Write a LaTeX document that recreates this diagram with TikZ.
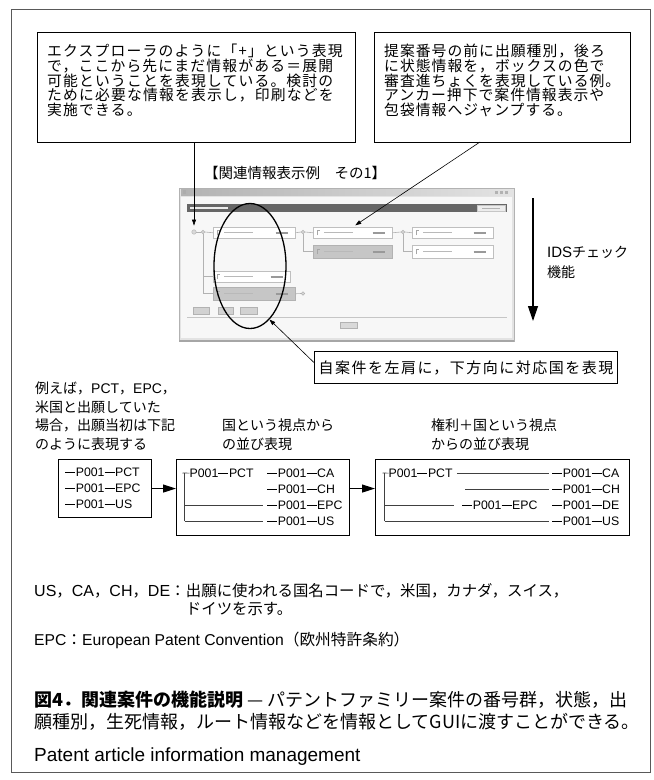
\documentclass[tikz,border=0pt]{standalone}
\usepackage{fontspec}
\setmainfont{Liberation Sans}
\newfontfamily\jp{Noto Sans CJK JP}
\usetikzlibrary{arrows.meta,shapes.geometric}
\newcommand\J[1]{{\jp #1}}
\newcommand\dsh{\rule[3.9pt]{10pt}{0.8pt}\kern0.6pt}
\newcommand\smarks[1]{%
  \draw[gray!70, line width=.5pt] ([xshift=4pt,yshift=-2.5pt]#1.west) -- ([xshift=4pt,yshift=2.5pt]#1.west) -- ([xshift=7pt,yshift=2.5pt]#1.west);
  \draw[gray!55, line width=1pt] ([xshift=11pt]#1.west) -- ([xshift=40pt]#1.west);
  \draw[gray!80, line width=2pt] ([xshift=-20pt]#1.east) -- ([xshift=-8pt]#1.east);}
\begin{document}
\begin{tikzpicture}[x=1pt,y=-1pt,
  cbox/.style={draw, line width=1.1pt, inner sep=0pt, anchor=north west},
  ltx/.style={anchor=base west, inner sep=0pt, font=\jp\fontsize{14.8}{15}\selectfont\addfontfeature{LetterSpace=8}},
  rtx/.style={anchor=base west, inner sep=0pt, font=\jp\fontsize{14.8}{15}\selectfont\addfontfeature{LetterSpace=7}},
  htx/.style={anchor=base west, inner sep=0pt, font=\jp\fontsize{14}{16}\selectfont},
  mtx/.style={anchor=base west, inner sep=0pt, font=\fontsize{14}{16}\selectfont},
  btx/.style={anchor=base west, inner sep=0pt, font=\fontsize{15.7}{17}\selectfont},
  tt/.style={anchor=base west, inner sep=0pt, font=\fontsize{12.3}{14}\selectfont},
  tbox/.style={draw, line width=1.1pt, inner sep=0pt, anchor=north west},
  tree/.style={draw=black!75, line width=0.6pt},
  barrow/.style={line width=1.1pt, -{Triangle[length=13pt,width=8pt]}},
  ptr/.style={line width=0.6pt, -{Triangle[length=6pt,width=4pt]}},
  snode/.style={draw=gray!50, fill=white, line width=0.5pt, inner sep=0pt, anchor=north west},
  sgray/.style={snode, fill=gray!45, draw=gray!60},
  sdot/.style={circle, draw=gray!60, fill=gray!30, inner sep=0pt, minimum size=3.5pt},
  sline/.style={draw=gray!60, line width=0.6pt}
]
\useasboundingbox (0,0) rectangle (654,780);
\fill[white] (0,0) rectangle (654,780);
\draw[black!65, line width=1pt] (11,9) rectangle (650,772);

% ---------- top callouts
\node[cbox, minimum width=318pt, minimum height=110pt] (lbox) at (37,32) {};
\node[cbox, minimum width=256pt, minimum height=110pt] (rbox) at (374,32) {};
\node[ltx] (lt1) at (47,56.5) {エクスプローラのように「+」という表現};
\node[ltx] (lt2) at (47,71.25) {で，ここから先にまだ情報がある＝展開};
\node[ltx] (lt3) at (47,86) {可能ということを表現している。検討の};
\node[ltx] (lt4) at (47,100.75) {ために必要な情報を表示し，印刷などを};
\node[ltx] (lt5) at (47,115.5) {実施できる。};
\node[rtx] (rt1) at (384,56.5) {提案番号の前に出願種別，後ろ};
\node[rtx] (rt2) at (384,71.25) {に状態情報を，ボックスの色で};
\node[rtx] (rt3) at (384,86) {審査進ちょくを表現している例。};
\node[rtx] (rt4) at (384,100.75) {アンカー押下で案件情報表示や};
\node[rtx] (rt5) at (384,115.5) {包袋情報へジャンプする。};

\node[htx, font=\jp\fontsize{14.5}{15}\selectfont] (title) at (204,178.5) {【関連情報表示例　その1】};

% ---------- screenshot
\filldraw[fill=gray!22, draw=gray!60, line width=0.6pt] (179,188) rectangle (514,341);
\fill[gray!6] (181,197) rectangle (512,338);
\shade[left color=gray!60, right color=gray!22] (181,189) rectangle (512,195);
\fill[gray!65] (183,190) rectangle (186,194);
\fill[gray!60] (495,190.5) rectangle (498,193.5);
\fill[gray!60] (500,190.5) rectangle (503,193.5);
\fill[gray!60] (505,190.5) rectangle (508,193.5);
\fill[black!60] (187,204) rectangle (507,212);
\draw[gray!15, line width=1.2pt] (190,208) -- (228,208);
\filldraw[fill=gray!15, draw=gray!45, line width=.4pt] (477,205) rectangle (505,211);
\draw[gray!60, line width=1pt] (482,208) -- (500,208);
\draw[gray!70, line width=1.4pt] (179,341) -- (514,341);

\node[snode, minimum width=82pt, minimum height=11pt] (sA) at (213,227) {};
\node[snode, minimum width=79pt, minimum height=11pt] (sB) at (313,227) {};
\node[sgray, minimum width=79pt, minimum height=13pt] (sC) at (313,245) {};
\node[snode, minimum width=81pt, minimum height=11pt] (sD) at (412,227) {};
\node[snode, minimum width=81pt, minimum height=13pt] (sE) at (412,245) {};
\node[snode, minimum width=77pt, minimum height=11pt] (sF) at (213,271) {};
\node[sgray, minimum width=82pt, minimum height=13pt] (sG) at (213,287) {};
\smarks{sA}\smarks{sB}\smarks{sC}\smarks{sD}\smarks{sE}\smarks{sF}\smarks{sG}

\node[sdot, minimum size=4.5pt] (c0) at (194,232) {};
\node[sdot] (c1) at (203,232) {};
\node[sdot] (c2) at (303,232) {};
\node[sdot] (c3) at (403,232) {};
\node[sdot] (c4) at (303,293.5) {};
\draw[sline] (c0.east) -- (c1.west);
\draw[sline] (c1.east) -- (sA.west);
\draw[sline] (c1.south) -- (c1 |- sG.west) -- (sG.west);
\draw[sline] (c1 |- sF.west) -- (sF.west);
\draw[sline] (sA.east) -- (c2.west);
\draw[sline] (c2.east) -- (sB.west);
\draw[sline] (c2.south) -- (c2 |- sC.west) -- (sC.west);
\draw[sline] (sB.east) -- (c3.west);
\draw[sline] (c3.east) -- (sD.west);
\draw[sline] (c3.south) -- (c3 |- sE.west) -- (sE.west);
\draw[sline] (sG.east) -- (c4.west);

\filldraw[fill=gray!35, draw=gray!60, line width=.4pt] (193,307) rectangle (209,314);
\filldraw[fill=gray!35, draw=gray!60, line width=.4pt] (218,307) rectangle (233,314);
\filldraw[fill=gray!35, draw=gray!60, line width=.4pt] (240,307) rectangle (257,314);
\draw[gray!45, line width=.6pt] (187,317.5) -- (507,317.5);
\filldraw[fill=gray!30, draw=gray!60, line width=.4pt] (340,322) rectangle (357,328);

% ellipse and pointers
\node[draw, ellipse, line width=1.3pt, minimum width=72pt, minimum height=125pt, inner sep=0pt] (ell) at (250,266) {};
\node[cbox, minimum width=303pt, minimum height=32pt, font=\jp\fontsize{15}{16}\selectfont\addfontfeature{LetterSpace=10}] (bbox) at (314,351) {自案件を左肩に，下方向に対応国を表現};
\coordinate (rp) at (480,142);
\draw[ptr, shorten >=4pt] (lbox.south -| c0) -- (c0.north);
\draw[ptr, shorten >=3pt] (rp) -- (sB.north);
\draw[ptr] ([yshift=5pt]bbox.west) -- (ell.-70);

% IDS arrow
\coordinate (idsA) at (533,198);
\coordinate (idsB) at (533,321);
\draw[line width=1.2pt, -{Triangle[length=15pt,width=10pt]}] (idsA) -- (idsB);
\node[mtx] (ids1) at (547,257.5) {{\fontsize{15}{16}\selectfont IDS}\J{チェック}};
\node[htx] (ids2) at (547,277) {機能};

% ---------- headings
\node[mtx] (h1) at (35,393.3) {\J{例えば，}PCT\J{，}EPC\J{，}};
\node[htx] (h2) at (35,412) {米国と出願していた};
\node[htx] (h3) at (35,430.6) {場合，出願当初は下記};
\node[htx] (h4) at (35,449.3) {のように表現する};
\node[htx] (h5) at (222,430.6) {国という視点から};
\node[htx] (h6) at (222,449.3) {の並び表現};
\node[htx] (h7) at (431,430.6) {権利＋国という視点};
\node[htx] (h8) at (431,449.3) {からの並び表現};

% ---------- tree boxes
\node[tbox, minimum width=93pt, minimum height=58pt] (b1) at (58,459) {};
\node[tbox, minimum width=173pt, minimum height=76pt] (b2) at (176,459) {};
\node[tbox, minimum width=254pt, minimum height=76pt] (b3) at (375,459) {};
\draw[barrow] (b1.east) -- (b1.east -| b2.west);
\draw[barrow] (b1.east -| b2.east) -- (b1.east -| b3.west);

\node[tt] (b1r1) at (65,476.3) {\dsh P001\dsh PCT};
\node[tt] (b1r2) at (65,492.3) {\dsh P001\dsh EPC};
\node[tt] (b1r3) at (65,508.3) {\dsh P001\dsh US};

\node[tt] (b2r1) at (189.5,477.3) {P001\dsh PCT};
\node[tt] (b2c1) at (267,477.3) {\dsh P001\dsh CA};
\node[tt] (b2c2) at (267,493.3) {\dsh P001\dsh CH};
\node[tt] (b2c3) at (267,509.3) {\dsh P001\dsh EPC};
\node[tt] (b2c4) at (267,525.3) {\dsh P001\dsh US};
\coordinate (b2v) at (184.5,473);
\draw[tree] ([xshift=-2pt]b2v) -- (b2r1.west);
\draw[tree] (b2v) -- (b2v |- b2c4.west);
\draw[tree] (b2v |- b2c3.west) -- ([xshift=-4pt]b2c3.west);
\draw[tree] (b2v |- b2c4.west) -- ([xshift=-4pt]b2c4.west);

\node[tt] (b3r1) at (388.5,477.3) {P001\dsh PCT};
\node[tt] (b3c1) at (552,477.3) {\dsh P001\dsh CA};
\node[tt] (b3c2) at (552,493.3) {\dsh P001\dsh CH};
\node[tt] (b3m3) at (462,509.3) {\dsh P001\dsh EPC};
\node[tt] (b3c3) at (552,509.3) {\dsh P001\dsh DE};
\node[tt] (b3c4) at (552,525.3) {\dsh P001\dsh US};
\coordinate (b3v) at (384.5,473);
\draw[tree] ([xshift=-2pt]b3v) -- (b3r1.west);
\draw[tree] (b3v) -- (b3v |- b3c4.west);
\draw[tree] ([xshift=4pt]b3r1.east) -- ([xshift=-3pt]b3c1.west);
\draw[tree] ([xshift=-87pt]b3c2.west) -- ([xshift=-3pt]b3c2.west);
\draw[tree] (b3v |- b3c3.west) -- ([xshift=-8pt]b3m3.west);
\draw[tree] (b3v |- b3c4.west) -- ([xshift=-3pt]b3c4.west);

% ---------- notes
\node[btx, font=\fontsize{16}{17}\selectfont] (us) at (34,596.5) {US\J{\fontsize{15.4}{17}\selectfont ，}CA\J{\fontsize{15.4}{17}\selectfont ，}CH\J{\fontsize{15.4}{17}\selectfont ，}DE\J{\fontsize{15.4}{17}\selectfont ：}};
\node[btx, font=\jp\fontsize{15.4}{17}\selectfont] (usd) at (us.base east) {出願に使われる国名コードで，米国，カナダ，スイス，};
\node[btx, font=\jp\fontsize{15.4}{17}\selectfont] (usd2) at ([yshift=-18pt]usd.base west) {ドイツを示す。};
\node[btx] (epc) at (34,645.7) {EPC\J{：}European Patent Convention\J{（欧州特許条約）}};

\node[anchor=base west, inner sep=0pt, font=\jp\fontsize{18}{22}\selectfont] (cap1) at (34,706.8) {{\bfseries 図4．関連案件の機能説明} — パテントファミリー案件の番号群，状態，出};
\node[anchor=base west, inner sep=0pt, font=\jp\fontsize{18}{22}\selectfont] (cap2) at (34,728.8) {願種別，生死情報，ルート情報などを情報としてGUIに渡すことができる。};
\node[anchor=base west, inner sep=0pt, font=\fontsize{19}{22}\selectfont] (pat) at (34,761) {Patent article information management};
\end{tikzpicture}
\end{document}
